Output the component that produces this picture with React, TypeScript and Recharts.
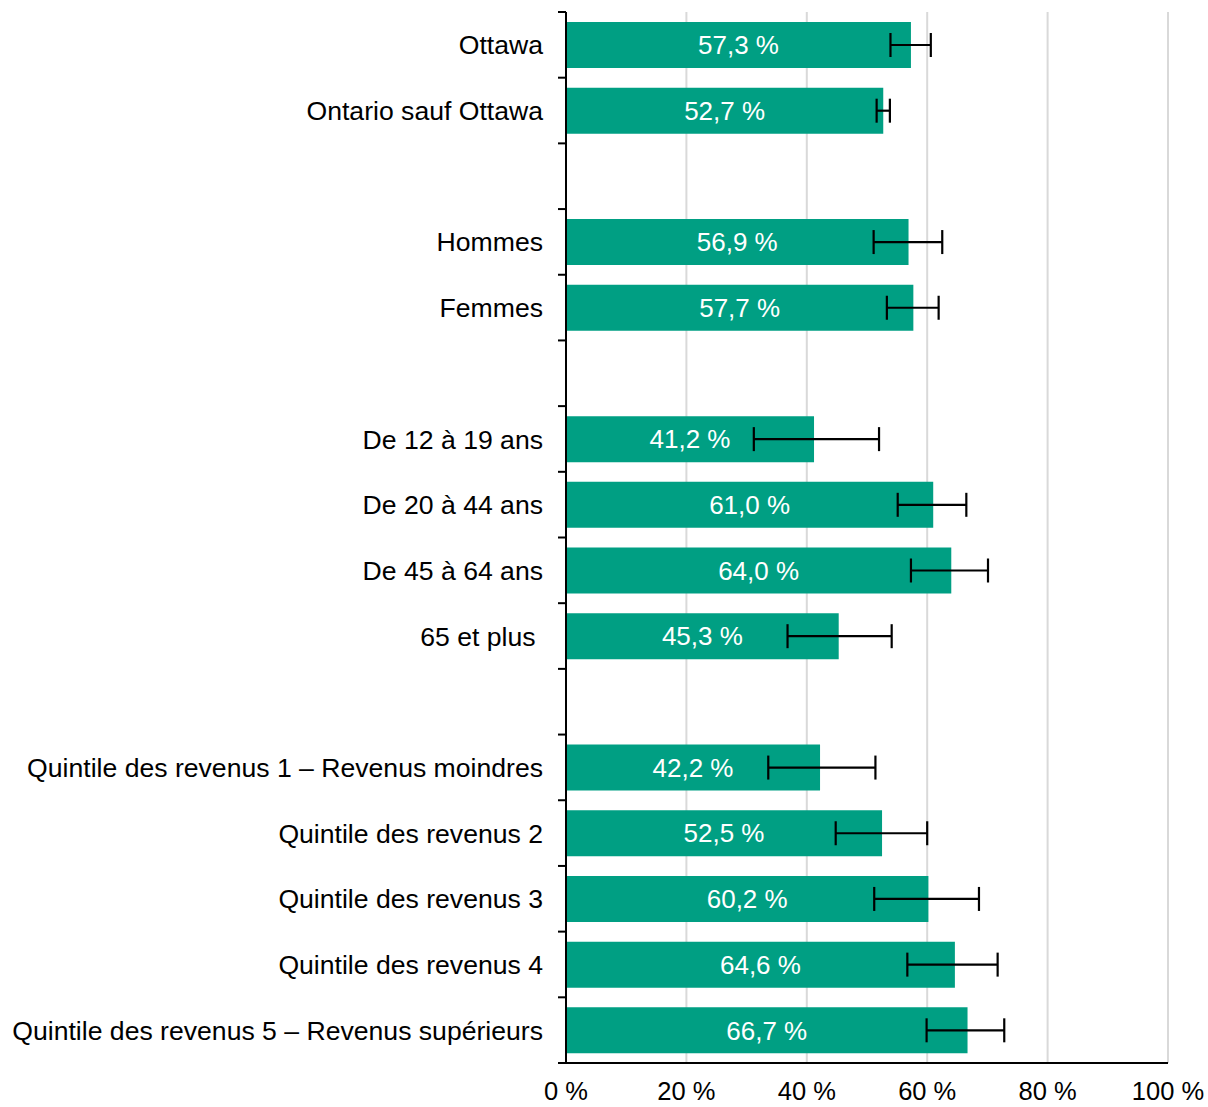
import { BarChart, Bar, XAxis, YAxis, CartesianGrid, ErrorBar, LabelList } from 'recharts';

// categories (blank entries are the spacer rows between groups)
const categories = [
  'Ottawa',
  'Ontario sauf Ottawa',
  ' ',
  'Hommes',
  'Femmes',
  '  ',
  'De 12 à 19 ans',
  'De 20 à 44 ans',
  'De 45 à 64 ans',
  '65 et plus ',
  '   ',
  'Quintile des revenus 1 – Revenus moindres',
  'Quintile des revenus 2',
  'Quintile des revenus 3',
  'Quintile des revenus 4',
  'Quintile des revenus 5 – Revenus supérieurs',
];

const values = [57.3, 52.7, null, 56.9, 57.7, null, 41.2, 61.0, 64.0, 45.3, null, 42.2, 52.5, 60.2, 64.6, 66.7];
// confidence interval bounds
const lower = [53.9, 51.6, null, 51.1, 53.3, null, 31.2, 55.1, 57.3, 36.8, null, 33.6, 44.8, 51.2, 56.7, 59.9];
const upper = [60.6, 53.8, null, 62.5, 61.9, null, 52.0, 66.5, 70.1, 54.1, null, 51.4, 60.0, 68.6, 71.7, 72.8];

const xTicks = [0, 20, 40, 60, 80, 100];

const data = categories.map((name, i) => {
  const v = values[i];
  const lo = lower[i];
  const hi = upper[i];
  return {
    name,
    value: v,
    err: v == null || lo == null || hi == null ? null : [v - lo, hi - v],
  };
});

const W = 1208;
const H = 1107;
const TOP = 12;
const X_AXIS_H = 44;
const BAND = (H - TOP - X_AXIS_H) / categories.length;
const FONT = '"Liberation Sans", Arial, sans-serif';

const fmtPct = (v: any) => (v == null ? '' : `${Number(v).toFixed(1).replace('.', ',')} %`);

function CategoryTick(props: any) {
  const { x, y, payload, index } = props;
  const last = index === categories.length - 1;
  return (
    <g>
      <line x1={x - 8} x2={x} y1={y - BAND / 2} y2={y - BAND / 2} stroke="#000" strokeWidth={2} />
      {last && <line x1={x - 8} x2={x} y1={y + BAND / 2} y2={y + BAND / 2} stroke="#000" strokeWidth={2} />}
      <text
        x={x - 23}
        y={y}
        dy="0.36em"
        textAnchor="end"
        fill="#000"
        fontSize={26.6}
        fontFamily={FONT}
        style={{ whiteSpace: 'pre' }}
      >
        {payload.value}
      </text>
    </g>
  );
}

export default function App() {
  return (
    <div style={{ position: 'absolute', left: 0, top: 0, width: W, height: H }}>
      <BarChart
        width={W}
        height={H}
        data={data}
        layout="vertical"
        margin={{ top: TOP, right: 40, left: 0, bottom: 0 }}
      >
        <CartesianGrid horizontal={false} stroke="#d9d9d9" strokeWidth={2} />
        <XAxis
          type="number"
          domain={[0, 100]}
          ticks={xTicks}
          tickFormatter={(v) => `${v} %`}
          tickLine={false}
          tickSize={0}
          tickMargin={19}
          height={X_AXIS_H}
          axisLine={{ stroke: '#000', strokeWidth: 2 }}
          tick={{ fill: '#000', fontSize: 25.5, fontFamily: FONT }}
        />
        <YAxis
          type="category"
          dataKey="name"
          width={566}
          interval={0}
          tickLine={false}
          tickSize={0}
          tickMargin={0}
          axisLine={{ stroke: '#000', strokeWidth: 2 }}
          tick={<CategoryTick />}
        />
        <Bar dataKey="value" fill="#009F83" barSize={46} isAnimationActive={false}>
          <LabelList
            dataKey="value"
            position="center"
            formatter={fmtPct}
            fill="#fff"
            fontSize={26}
            fontFamily={FONT}
          />
          <ErrorBar dataKey="err" direction="x" width={12} stroke="#000" strokeWidth={2.2} />
        </Bar>
      </BarChart>
    </div>
  );
}
